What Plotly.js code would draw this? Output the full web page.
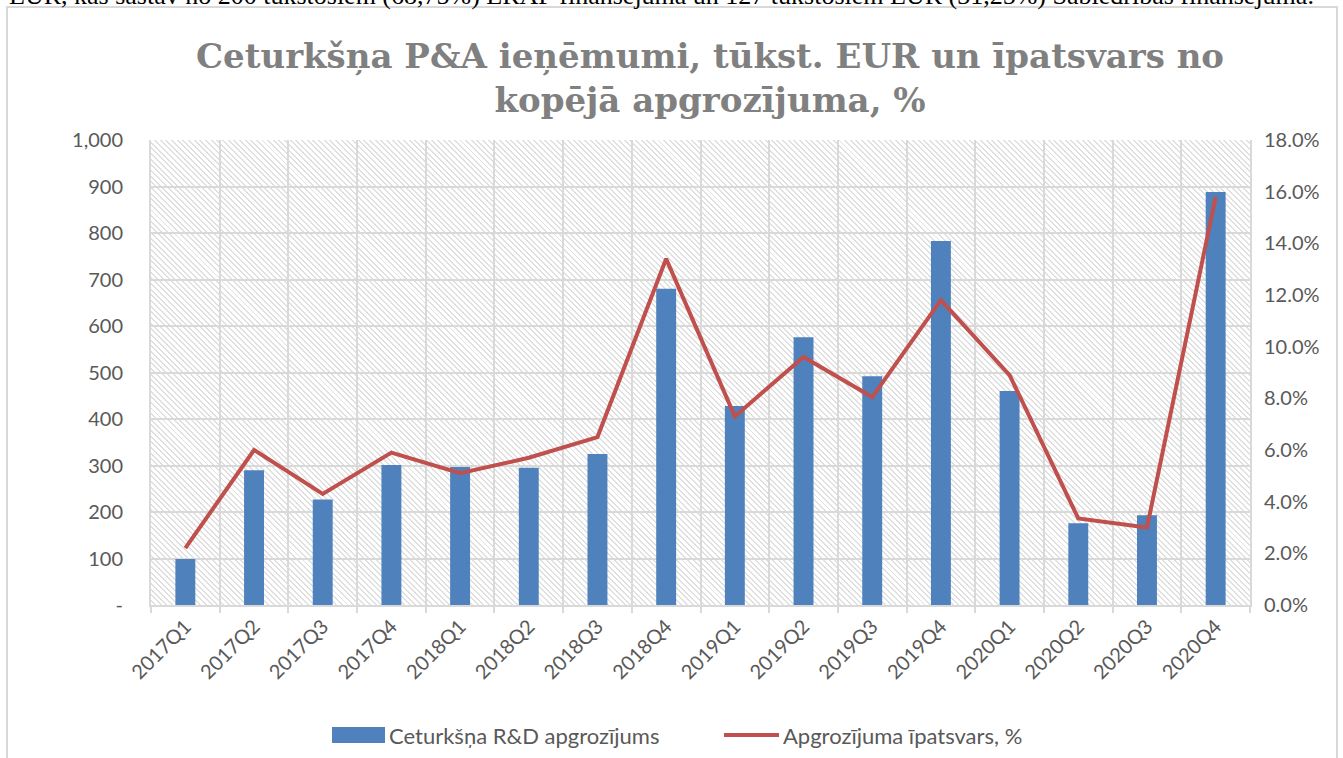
<!DOCTYPE html>
<html>
<head>
<meta charset="utf-8">
<script src="https://cdn.plot.ly/plotly-3.0.1.min.js"></script>
<style>
  html, body { margin: 0; padding: 0; background: #fff; }
  #wrap { position: relative; width: 1343px; height: 758px; overflow: hidden; }
  #hatch {
    position: absolute; left: 151px; top: 140px; width: 1099px; height: 465px;
    background: repeating-linear-gradient(45deg, #ffffff 0px, #ffffff 2.6px, #e0e0e0 2.6px, #e0e0e0 4px);
  }
  #chart { position: absolute; left: 0; top: 0; width: 1343px; height: 758px; }
</style>
</head>
<body>
<div id="wrap">
  <div id="hatch"></div>
  <div id="chart"></div>
</div>
<script>
const quarters = ["2017Q1","2017Q2","2017Q3","2017Q4","2018Q1","2018Q2","2018Q3","2018Q4",
                  "2019Q1","2019Q2","2019Q3","2019Q4","2020Q1","2020Q2","2020Q3","2020Q4"];
const revenue = [99, 290, 227, 301, 297, 295, 325, 680, 428, 576, 492, 783, 460, 176, 193, 888];
const sharePct = [2.2, 6.0, 4.3, 5.9, 5.1, 5.7, 6.5, 13.4, 7.3, 9.6, 8.05, 11.8, 8.9, 3.35, 3.0, 15.8];
const leftTickVals = [0,100,200,300,400,500,600,700,800,900,1000];
const leftTickText = ["-","100","200","300","400","500","600","700","800","900","1,000"];
const rightTickVals = [0,2,4,6,8,10,12,14,16,18];
const rightTickText = ["0.0%","2.0%","4.0%","6.0%","8.0%","10.0%","12.0%","14.0%","16.0%","18.0%"];
const barName = "Ceturkšņa R&D apgrozījums";
const lineName = "Apgrozījuma īpatsvars, %";
const titleText = "Ceturkšņa P&A ieņēmumi, tūkst. EUR un īpatsvars no<br>kopējā apgrozījuma, %";
const topText = "EUR, kas sastāv no 200 tūkstošiem (68,75%) ERAF finansējuma un 127 tūkstošiem EUR (31,25%) Sabiedrības finansējuma.";

const fontFam = "Lato, 'Open Sans', sans-serif";
const tickFont = {family: fontFam, size: 20, color: "#595959"};
const legendFont = {family: fontFam, size: 22, color: "#595959"};

const traces = [
  {type: "bar", x: quarters, y: revenue, name: barName, width: 0.29,
   marker: {color: "#4f81bd"}, yaxis: "y"},
  {type: "scatter", mode: "lines", x: quarters, y: sharePct, name: lineName,
   line: {color: "#c0504d", width: 4}, yaxis: "y2"}
];

// pixel helpers for layout (plot area 151..1250 x, 140..605 y)
const px = x => (x - 151) / 1099;
const py = y => (605 - y) / 465;

const layout = {
  width: 1343, height: 758,
  margin: {l: 151, r: 93, t: 140, b: 153},
  paper_bgcolor: "rgba(0,0,0,0)", plot_bgcolor: "rgba(0,0,0,0)",
  title: {text: titleText, x: 0.5287, xanchor: "center", y: 0.91, yanchor: "top",
          font: {family: "'DejaVu Serif', 'Liberation Serif', serif", size: 34, color: "#808080", weight: "bold"}},
  showlegend: false,
  xaxis: {type: "category", tickson: "boundaries", showgrid: true, gridcolor: "#d9d9d9", gridwidth: 2,
          ticks: "outside", ticklen: 6, tickcolor: "#d9d9d9", tickwidth: 2,
          showline: true, linecolor: "#d9d9d9", linewidth: 2,
          tickangle: -45, tickfont: tickFont, range: [-0.5, 15.5]},
  yaxis: {range: [0, 1000], tickvals: leftTickVals, ticktext: leftTickText,
          showgrid: true, gridcolor: "#d9d9d9", gridwidth: 2, zeroline: false,
          tickfont: tickFont, ticks: "", ticklabelstandoff: 22, showline: true, linecolor: "#d9d9d9", linewidth: 2},
  yaxis2: {range: [0, 18], overlaying: "y", side: "right", tickvals: rightTickVals, ticktext: rightTickText,
           showgrid: false, zeroline: false,
           tickfont: tickFont, ticks: "", ticklabelstandoff: 8, showline: true, linecolor: "#d9d9d9", linewidth: 2},
  shapes: [
    {type: "rect", xref: "paper", yref: "paper", x0: px(7), x1: px(1337), y0: py(800), y1: py(7),
     line: {color: "#d9d9d9", width: 2}, fillcolor: "rgba(0,0,0,0)", layer: "below"},
    // legend keys
    {type: "rect", xref: "paper", yref: "paper", x0: px(332), x1: px(385), y0: py(743), y1: py(727),
     line: {width: 0}, fillcolor: "#4f81bd"},
    {type: "line", xref: "paper", yref: "paper", x0: px(724), x1: px(779), y0: py(735), y1: py(735),
     line: {color: "#c0504d", width: 4}}
  ],
  annotations: [
    {text: topText, xref: "paper", yref: "paper", x: px(7), xanchor: "left",
     y: py(-5), yanchor: "middle", showarrow: false,
     font: {family: "'Liberation Serif', serif", size: 26, color: "#000"}},
    {text: barName, xref: "paper", yref: "paper", x: px(387), xanchor: "left",
     y: py(735), yanchor: "middle", showarrow: false, font: legendFont},
    {text: lineName, xref: "paper", yref: "paper", x: px(781), xanchor: "left",
     y: py(735), yanchor: "middle", showarrow: false, font: legendFont}
  ]
};

Plotly.newPlot("chart", traces, layout, {displayModeBar: false, staticPlot: true});
</script>
</body>
</html>
